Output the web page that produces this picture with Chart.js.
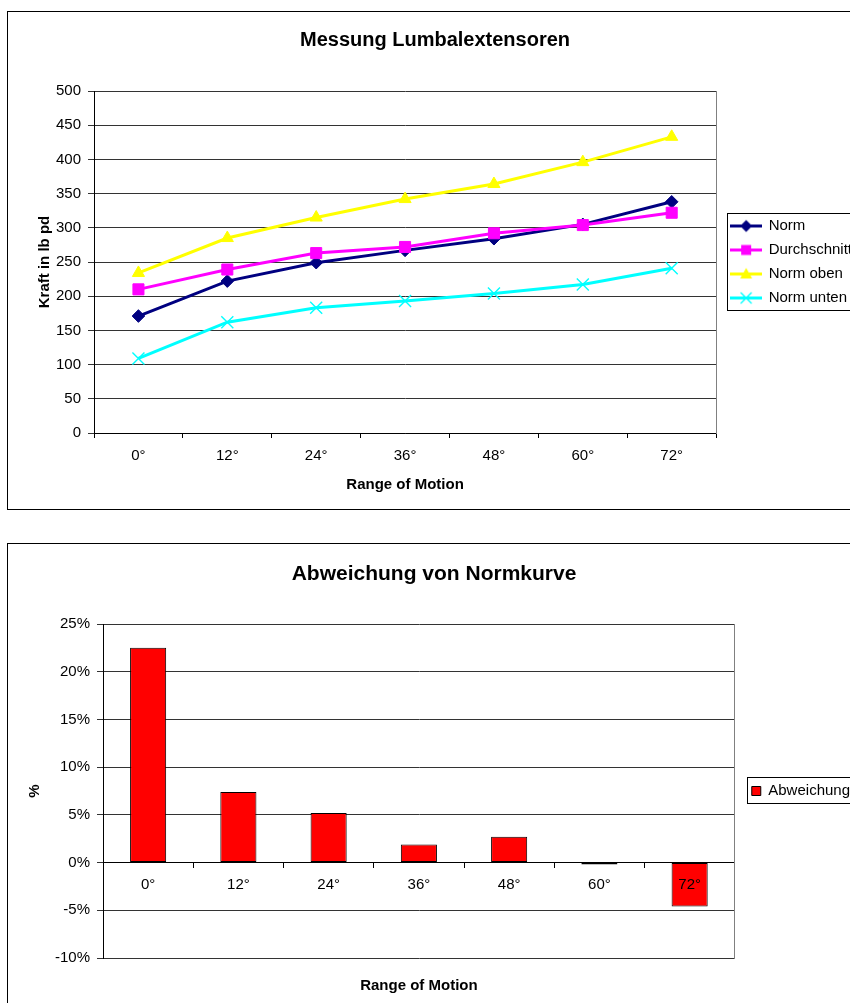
<!DOCTYPE html>
<html lang="de">
<head>
<meta charset="utf-8">
<title>Messung Lumbalextensoren</title>
<script src="https://cdn.jsdelivr.net/npm/chart.js@4/dist/chart.umd.min.js"></script>
<style>
  html, body { margin: 0; padding: 0; background: #fff; overflow: hidden; width: 850px; height: 1003px; }
  .frame { position: absolute; border: 1px solid #000; box-sizing: border-box; background: #fff; }
  .frame canvas { position: absolute; left: 0; top: 0; }
  #frameTop { left: 7px; top: 11px; width: 860px; height: 499px; }
  #frameBottom { left: 7px; top: 543px; width: 860px; height: 480px; }
</style>
</head>
<body>
<div class="frame" id="frameTop"><canvas id="kraftChart" width="858" height="497"></canvas></div>
<div class="frame" id="frameBottom"><canvas id="abweichungChart" width="858" height="478"></canvas></div>
<script>
// Range of motion positions
const categories = ['0°', '12°', '24°', '36°', '48°', '60°', '72°'];

// Force in lb pd
const norm         = [171, 222, 249, 267, 284, 305, 338];
const durchschnitt = [210, 239, 263, 272, 292, 304, 322];
const normOben     = [234, 285, 315, 342, 364, 396, 433];
const normUnten    = [109, 162, 183, 193, 204, 217, 241];

// Deviation from the norm curve, in percent
const abweichung = [22.5, 7.4, 5.2, 1.9, 2.7, -0.2, -4.6];

// Axis ticks
const kraftTicks = { min: 0, max: 500, step: 50 };
const prozentTicks = { min: -10, max: 25, step: 5 };

Chart.defaults.font.family = '"Liberation Sans", Arial, sans-serif';
Chart.defaults.font.size = 15;
Chart.defaults.color = '#000';

// Outline around the legend items
const legendFrame = {
  id: 'legendFrame',
  afterDraw(chart, args, opts) {
    const lg = chart.legend;
    const hb = lg && lg.legendHitBoxes;
    if (!hb || !hb.length) return;
    const first = hb[0], last = hb[hb.length - 1];
    const ctx = chart.ctx;
    const x = Math.round(lg.left + opts.left) + 0.5;
    const y = Math.round(first.top - opts.top) + 0.5;
    const b = Math.round(last.top + last.height + opts.bottom) + 0.5;
    const r = Math.round(lg.right - 2) + 0.5;
    ctx.save();
    ctx.strokeStyle = '#000';
    ctx.lineWidth = 1;
    ctx.strokeRect(x, y, r - x, b - y);
    ctx.restore();
  }
};

// Line-with-marker glyphs for the legend
function legendGlyph(color, shape) {
  const c = document.createElement('canvas');
  c.width = 32; c.height = 15;
  const g = c.getContext('2d');
  g.strokeStyle = color; g.fillStyle = color;
  g.lineWidth = 3;
  g.beginPath(); g.moveTo(0, 7.5); g.lineTo(32, 7.5); g.stroke();
  const cx = 16, cy = 7.5;
  g.beginPath();
  if (shape === 'diamond') {
    g.moveTo(cx - 6, cy); g.lineTo(cx, cy - 6); g.lineTo(cx + 6, cy); g.lineTo(cx, cy + 6); g.closePath(); g.fill();
  } else if (shape === 'square') {
    g.fillRect(cx - 5, cy - 5, 10, 10);
  } else if (shape === 'triangle') {
    g.moveTo(cx, cy - 6); g.lineTo(cx + 6, cy + 4.5); g.lineTo(cx - 6, cy + 4.5); g.closePath(); g.fill();
  } else if (shape === 'cross') {
    g.lineWidth = 1.3;
    g.moveTo(cx - 5.5, cy - 5.5); g.lineTo(cx + 5.5, cy + 5.5);
    g.moveTo(cx + 5.5, cy - 5.5); g.lineTo(cx - 5.5, cy + 5.5);
    g.stroke();
  }
  return c;
}

const seriesStyle = [
  { label: 'Norm',         data: norm,         color: '#000080', pointStyle: 'rectRot',  radius: 6.3, glyph: 'diamond',  order: 4, pbw: 1 },
  { label: 'Durchschnitt', data: durchschnitt, color: '#FF00FF', pointStyle: 'rect',     radius: 7.8, glyph: 'square',   order: 3, pbw: 1 },
  { label: 'Norm oben',    data: normOben,     color: '#FFFF00', pointStyle: 'triangle', radius: 7,   glyph: 'triangle', order: 2, pbw: 1 },
  { label: 'Norm unten',   data: normUnten,    color: '#00FFFF', pointStyle: 'crossRot', radius: 8.5, glyph: 'cross',    order: 1, pbw: 1.4 }
];
const glyphs = seriesStyle.map(s => legendGlyph(s.color, s.glyph));

new Chart(document.getElementById('kraftChart'), {
  type: 'line',
  data: {
    labels: categories,
    datasets: seriesStyle.map(s => ({
      label: s.label,
      data: s.data,
      borderColor: s.color,
      backgroundColor: s.color,
      borderWidth: 3,
      tension: 0,
      fill: false,
      pointStyle: s.pointStyle,
      pointRadius: s.radius,
      pointBorderWidth: s.pbw,
      pointBackgroundColor: s.color,
      pointBorderColor: s.color,
      order: s.order
    }))
  },
  options: {
    responsive: false,
    animation: false,
    events: [],
    layout: { padding: { left: 0, right: 4, top: 0, bottom: 6 } },
    plugins: {
      title: {
        display: true,
        text: 'Messung Lumbalextensoren',
        font: { size: 20, weight: 'bold' },
        color: '#000',
        padding: { top: 16, bottom: 39 }
      },
      legend: {
        display: true,
        position: 'right',
        fullSize: false,
        labels: {
          usePointStyle: true,
          pointStyleWidth: 30,
          padding: 9,
          font: { size: 15 },
          color: '#000',
          generateLabels: chart => chart.data.datasets.map((ds, i) => ({
            text: ds.label,
            pointStyle: glyphs[i],
            datasetIndex: i,
            fontColor: '#000',
            fillStyle: 'transparent',
            strokeStyle: 'transparent',
            lineWidth: 0,
            hidden: false
          }))
        }
      },
      legendFrame: { left: 5, top: 6, bottom: 4 },
      tooltip: { enabled: false }
    },
    scales: {
      x: {
        type: 'category',
        offset: true,
        grid: { display: true, offset: true, drawOnChartArea: false, drawTicks: true, tickLength: 5, color: '#000' },
        border: { color: '#000', width: 1 },
        ticks: { padding: 9, maxRotation: 0, autoSkip: false, color: '#000', font: { size: 15 } },
        title: { display: true, text: 'Range of Motion', color: '#000', font: { size: 15, weight: 'bold' }, padding: { top: 10, bottom: 9 } },
        afterFit: s => { s.height = 70; }
      },
      y: {
        min: kraftTicks.min,
        max: kraftTicks.max,
        ticks: { stepSize: kraftTicks.step, padding: 7, color: '#000', font: { size: 15 } },
        grid: { color: '#333', tickLength: 6 },
        border: { color: '#000', width: 1 },
        title: { display: true, text: 'Kraft in lb pd', color: '#000', font: { size: 15, weight: 'bold' }, padding: { top: 28, bottom: 0 } },
        afterFit: s => { s.width = 86; }
      },
      y2: {
        axis: 'y',
        position: 'right',
        min: kraftTicks.min,
        max: kraftTicks.max,
        ticks: { display: false },
        grid: { display: false, drawTicks: false },
        border: { color: '#808080', width: 1 },
        afterFit: s => { s.width = 6; }
      }
    }
  },
  plugins: [legendFrame]
});

new Chart(document.getElementById('abweichungChart'), {
  type: 'bar',
  data: {
    labels: categories,
    datasets: [{
      label: 'Abweichung',
      data: abweichung,
      backgroundColor: '#FF0000',
      borderColor: '#000',
      borderWidth: 1,
      borderSkipped: false,
      barPercentage: 0.4,
      categoryPercentage: 1.0
    }]
  },
  options: {
    responsive: false,
    animation: false,
    events: [],
    layout: { padding: { left: 0, right: 6, top: 0, bottom: 27 } },
    plugins: {
      title: {
        display: true,
        text: 'Abweichung von Normkurve',
        font: { size: 21, weight: 'bold' },
        color: '#000',
        padding: { top: 17.4, bottom: 37.4 }
      },
      legend: {
        display: true,
        position: 'right',
        fullSize: false,
        labels: {
          boxWidth: 9,
          boxHeight: 9,
          padding: 10,
          font: { size: 15 },
          color: '#000',
          generateLabels: chart => chart.data.datasets.map((ds, i) => ({
            text: ds.label,
            datasetIndex: i,
            fontColor: '#000',
            fillStyle: '#FF0000',
            strokeStyle: '#000',
            lineWidth: 1,
            hidden: false
          }))
        }
      },
      legendFrame: { left: 5, top: 6.5, bottom: 4 },
      tooltip: { enabled: false }
    },
    scales: {
      x: {
        position: { y: 0 },
        offset: true,
        grid: { display: true, offset: true, drawOnChartArea: false, drawTicks: true, tickLength: 5, color: '#000' },
        border: { color: '#000', width: 1 },
        ticks: { z: 1, padding: 8, maxRotation: 0, autoSkip: false, color: '#000', font: { size: 15 } }
      },
      xt: {
        axis: 'x',
        type: 'category',
        position: 'bottom',
        ticks: { display: false },
        grid: { display: false, drawTicks: false },
        border: { display: false },
        title: { display: true, text: 'Range of Motion', color: '#000', font: { size: 15, weight: 'bold' }, padding: { top: 19, bottom: 0 } }
      },
      y: {
        min: prozentTicks.min,
        max: prozentTicks.max,
        ticks: { stepSize: prozentTicks.step, padding: 7, color: '#000', font: { size: 15 }, callback: v => v + '%' },
        grid: { color: '#333', tickLength: 6 },
        border: { color: '#000', width: 1 },
        title: { display: true, text: '%', color: '#000', font: { size: 15, weight: 'bold' }, padding: { top: 18, bottom: 0 } },
        afterFit: s => { s.width = 95; }
      },
      y2: {
        axis: 'y',
        position: 'right',
        min: prozentTicks.min,
        max: prozentTicks.max,
        ticks: { display: false },
        grid: { display: false, drawTicks: false },
        border: { color: '#808080', width: 1 },
        afterFit: s => { s.width = 7; }
      }
    }
  },
  plugins: [legendFrame]
});
</script>
</body>
</html>
